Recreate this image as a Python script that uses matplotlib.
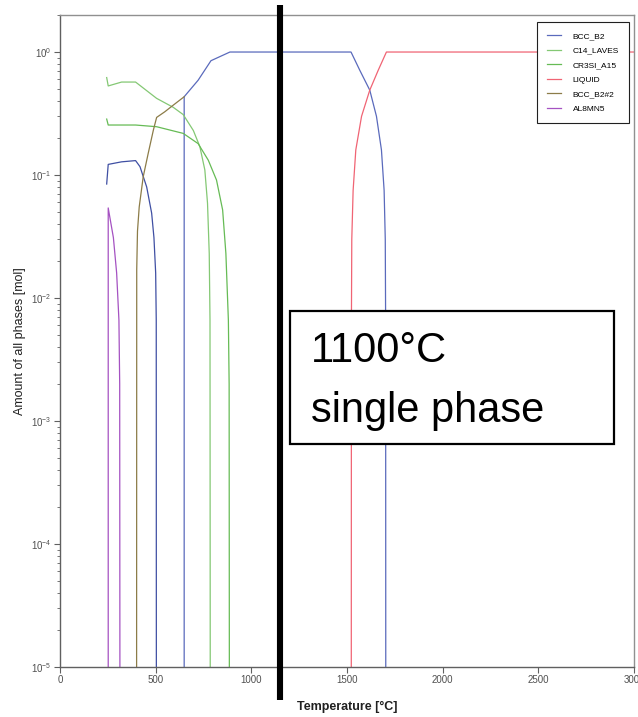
import matplotlib
matplotlib.use("Agg")
import matplotlib.pyplot as plt
from matplotlib.patches import Rectangle
from matplotlib.transforms import blended_transform_factory

plt.rcParams['font.family'] = ['Liberation Sans', 'DejaVu Sans']
plt.rcParams['mathtext.fontset'] = 'custom'
plt.rcParams['mathtext.rm'] = 'Liberation Sans'
plt.rcParams['mathtext.it'] = 'Liberation Sans'
plt.rcParams['mathtext.bf'] = 'Liberation Sans:bold'
plt.rcParams['axes.unicode_minus'] = False

# ---------------- data (temperature in °C, amount in mol) ----------------
bcc_low_T = [244, 252, 322, 395, 418, 453, 479, 491, 500, 503, 504]
bcc_low_V = [0.0845, 0.122, 0.128, 0.131, 0.117, 0.080, 0.049, 0.031, 0.016, 0.0066, 1e-7]

bcc_high_T = [649, 649, 722, 789, 888, 1521, 1567, 1619, 1654, 1680, 1694, 1700, 1702, 1703]
bcc_high_V = [1e-7, 0.433, 0.59, 0.85, 1.0, 1.0, 0.71, 0.49, 0.30, 0.16, 0.075, 0.03, 0.006, 1e-7]

c14_T = [244, 252, 322, 395, 505, 592, 644, 697, 731, 757, 771, 780, 784, 786]
c14_V = [0.62, 0.53, 0.57, 0.57, 0.42, 0.355, 0.31, 0.23, 0.17, 0.11, 0.059, 0.023, 0.0066, 1e-7]

cr3si_T = [244, 252, 322, 395, 505, 644, 722, 775, 818, 850, 867, 880, 884, 886]
cr3si_V = [0.285, 0.255, 0.255, 0.255, 0.247, 0.218, 0.18, 0.132, 0.091, 0.052, 0.023, 0.0066, 0.002, 1e-7]

liquid_T = [1522, 1523, 1525, 1532, 1546, 1576, 1619, 1663, 1706, 3000]
liquid_V = [1e-7, 0.006, 0.03, 0.075, 0.16, 0.30, 0.49, 0.71, 1.0, 1.0]

bcc2_T = [400, 401, 405, 414, 435, 461, 488, 505, 548, 592, 649]
bcc2_V = [1e-7, 0.017, 0.035, 0.055, 0.097, 0.15, 0.232, 0.294, 0.327, 0.37, 0.433]

al8mn5_T = [252, 252, 279, 296, 308, 312, 314]
al8mn5_V = [1e-7, 0.054, 0.031, 0.016, 0.0066, 0.002, 1e-7]

phase_names = ['BCC_B2', 'C14_LAVES', 'CR3SI_A15', 'LIQUID', 'BCC_B2#2', 'AL8MN5']
x_ticks = [0, 500, 1000, 1500, 2000, 2500, 3000]
marker_T = 1150
box_lines = ['1100°C', 'single phase']

# ---------------- figure ----------------
fig = plt.figure(figsize=(6.38, 7.17), dpi=100)
ax = fig.add_axes([60/638, 1-667/717, 574/638, 652/717])

c_blue = '#5a6abc'
c_blue_dark = '#3f4fa3'
c_green1 = '#84c874'
c_green2 = '#66bb55'
c_red = '#f06474'
c_olive = '#8c7c48'
c_purple = '#a552c2'
lw = 0.9

h_bcc, = ax.plot(bcc_high_T, bcc_high_V, color=c_blue, lw=lw)
ax.plot(bcc_low_T, bcc_low_V, color=c_blue_dark, lw=lw)
h_c14, = ax.plot(c14_T, c14_V, color=c_green1, lw=lw)
h_cr3, = ax.plot(cr3si_T, cr3si_V, color=c_green2, lw=lw)
h_liq, = ax.plot(liquid_T, liquid_V, color=c_red, lw=lw)
h_bcc2, = ax.plot(bcc2_T, bcc2_V, color=c_olive, lw=lw)
h_al, = ax.plot(al8mn5_T, al8mn5_V, color=c_purple, lw=lw)

ax.set_yscale('log')
ax.set_xlim(0, 3000)
ax.set_ylim(1e-5, 2.0)
ax.set_xticks(x_ticks)
ax.set_xticklabels([str(t) for t in x_ticks])

spine_c = '#606060'
for s in ax.spines.values():
    s.set_color(spine_c)
    s.set_linewidth(1.0)
ax.spines['top'].set_color('#909090')
ax.spines['right'].set_color('#909090')

ax.tick_params(axis='both', which='major', direction='out', length=4, width=0.8,
               color=spine_c, labelsize=7, labelcolor='#505050', pad=2)
ax.tick_params(axis='y', which='minor', direction='out', length=2.5, width=0.6, color=spine_c)

ax.set_xlabel('Temperature [°C]', fontsize=9, fontweight='bold', color='#202020')
ax.set_ylabel('Amount of all phases [mol]', fontsize=9, color='#202020')
ax.xaxis.set_label_coords(0.5, -(701-667)/652)
ax.yaxis.set_label_coords((26-60)/574, 0.5)

leg = ax.legend([h_bcc, h_c14, h_cr3, h_liq, h_bcc2, h_al], phase_names,
                loc='upper right', bbox_to_anchor=(0.991, 0.989), borderaxespad=0,
                fontsize=6, frameon=True, fancybox=False, edgecolor='#202020',
                handlelength=1.6, handletextpad=1.45, labelspacing=0.8,
                borderpad=1.2, framealpha=1)
leg.get_frame().set_linewidth(0.8)

# annotation box
rect = Rectangle(((289.5-60)/574, (667-444)/652), (614-289.5)/574, (444-311)/652,
                 transform=ax.transAxes, facecolor='white', edgecolor='black',
                 lw=1.6, zorder=5)
ax.add_patch(rect)
ax.text((311-60)/574, (667-362.3)/652, box_lines[0], transform=ax.transAxes,
        fontsize=30, va='baseline', ha='left', color='black', zorder=6)
ax.text((311-60)/574, (667-421.7)/652, box_lines[1], transform=ax.transAxes,
        fontsize=30, va='baseline', ha='left', color='black', zorder=6)

# thick vertical marker line spanning beyond the axes
trans = blended_transform_factory(ax.transData, fig.transFigure)
ax.plot([marker_T, marker_T], [1-5/717, 1-700/717], color='black', lw=4.4,
        transform=trans, clip_on=False, zorder=7, solid_capstyle='butt')

fig.savefig('out.png', dpi=100, facecolor='white')
